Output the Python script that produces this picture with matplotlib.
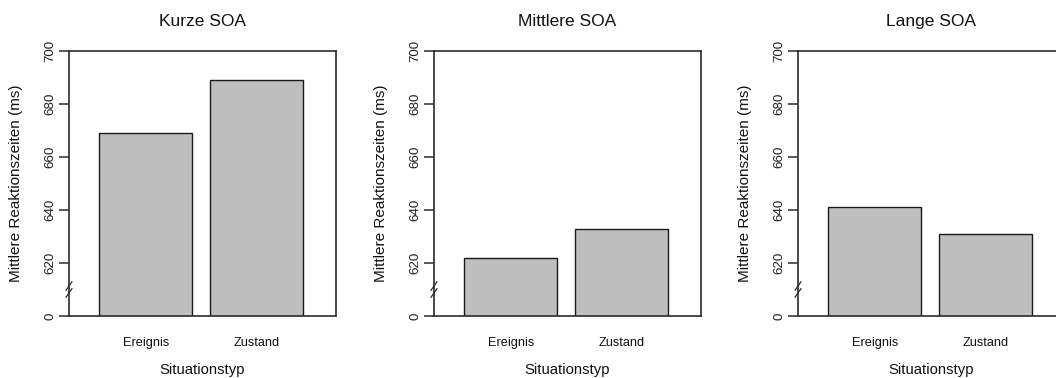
import matplotlib
matplotlib.use('Agg')
import matplotlib.pyplot as plt
import numpy as np

plt.rcParams['font.family'] = ['Liberation Sans', 'DejaVu Sans']

# Daten
titel = ['Kurze SOA', 'Mittlere SOA', 'Lange SOA']
kategorien = ['Ereignis', 'Zustand']
kurz = [669, 689]
mittel = [622, 633]
lang = [641, 631]
werte = [kurz, mittel, lang]

y_ticks = [600, 620, 640, 660, 680, 700]
y_ticklabels = ['0', '620', '640', '660', '680', '700']

fig = plt.figure(figsize=(10.56, 3.78), dpi=100)
W, H = 1056, 378

# Achsenpositionen in Pixeln (links, oben, rechts, unten)
lefts = [69, 434, 798]
ax_w, top, bottom = 267, 51, 316

x = np.array([0.7, 1.9])
linecol = '#2b2b2b'

for i in range(3):
    ax = fig.add_axes([lefts[i] / W, (H - bottom) / H, ax_w / W, (bottom - top) / H])
    ax.bar(x, werte[i], width=1.0, bottom=0, color='#bebebe',
           edgecolor='#1a1a1a', linewidth=1.0, zorder=2)
    ax.set_ylim(600, 700)
    ax.set_xlim(-0.13, 2.76)
    for s in ax.spines.values():
        s.set_color(linecol)
        s.set_linewidth(1.2)
    ax.set_yticks(y_ticks)
    ax.set_yticklabels(y_ticklabels, rotation=90, va='center', fontsize=9.6, color='#222222')
    ax.tick_params(axis='y', length=7, width=1.1, color=linecol, pad=2)
    ax.set_xticks(x)
    ax.set_xticklabels(kategorien, fontsize=9.2, color='#111111')
    ax.tick_params(axis='x', length=0, pad=15)
    ax.set_xlabel('Situationstyp', fontsize=10.7, labelpad=10, color='#111111')
    ax.set_ylabel('Mittlere Reaktionszeiten (ms)', fontsize=11, va='center', color='#111111')
    ax.yaxis.set_label_coords(-53 / ax_w, 0.5)
    ax.set_title(titel[i], fontsize=12.5, pad=18, color='#111111')

    # Achsenbruch-Markierung
    for dy in (-1.3, 1.3):
        ax.plot([-0.011, 0.011], [610 + dy - 1.6, 610 + dy + 1.6],
                transform=ax.get_yaxis_transform(), color=linecol,
                linewidth=0.9, clip_on=False, zorder=5)

plt.savefig('out.png', dpi=100)
